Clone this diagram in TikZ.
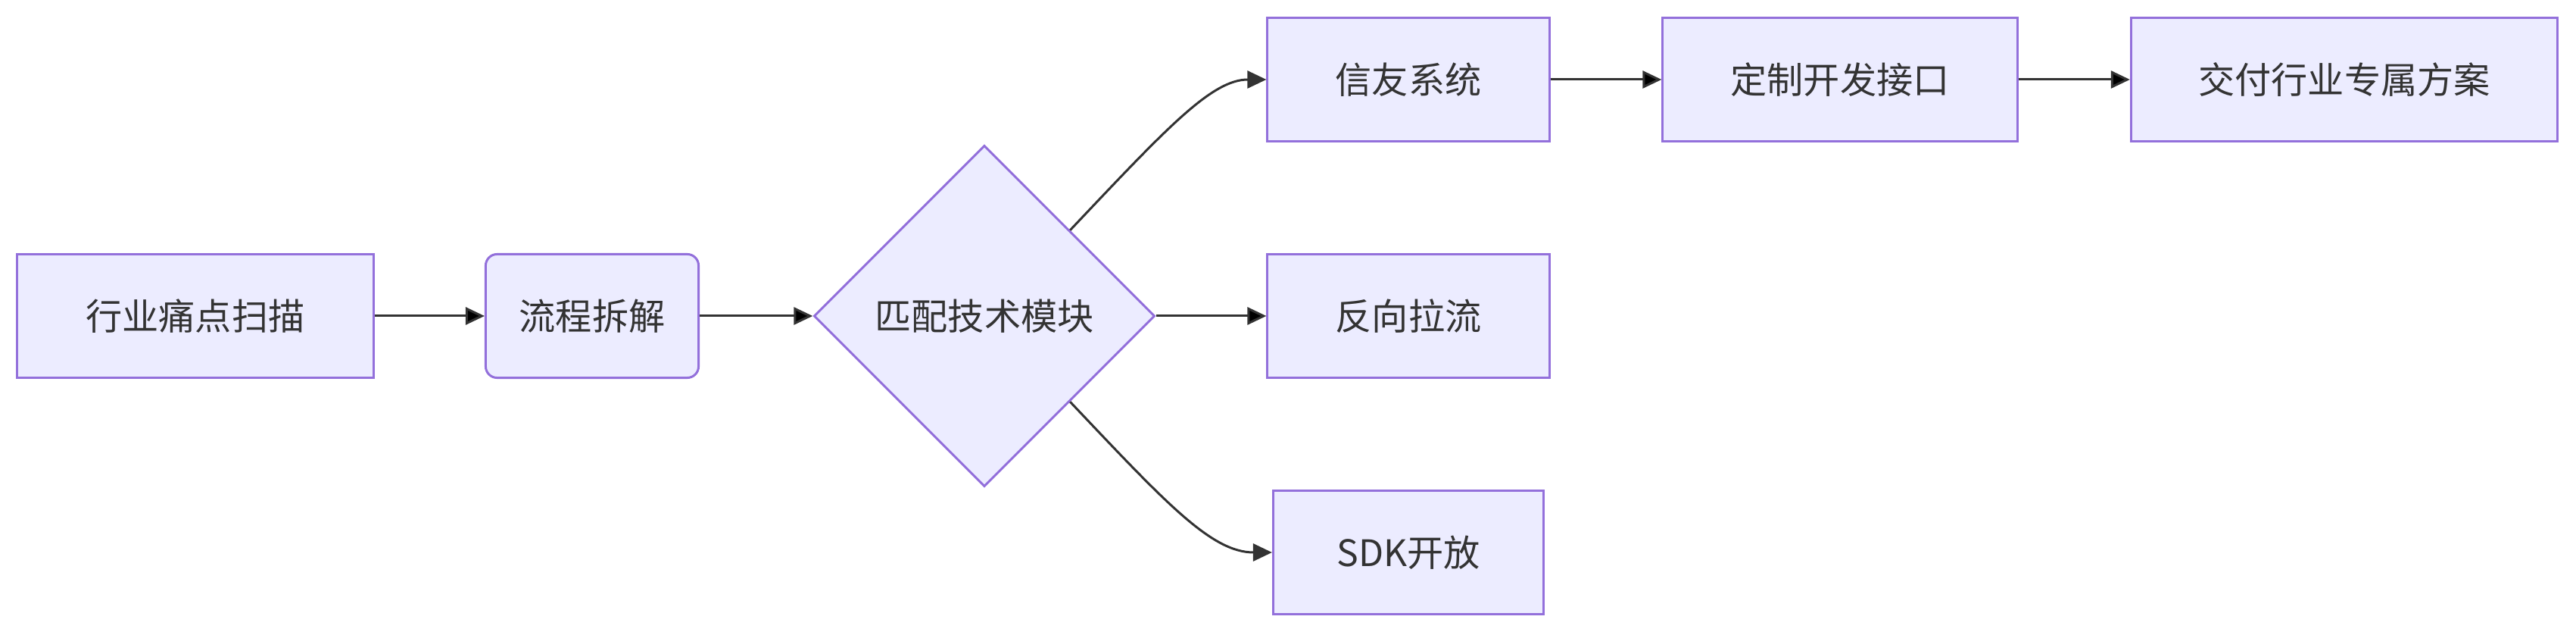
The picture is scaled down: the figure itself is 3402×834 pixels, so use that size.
\documentclass[tikz,border=0pt]{standalone}
\usepackage{fontspec}
\setmainfont{Noto Sans CJK SC}
\usetikzlibrary{shapes.geometric, arrows.meta}
\definecolor{nodefill}{HTML}{ECECFF}
\definecolor{nodeline}{HTML}{9370DB}
\definecolor{inkgray}{HTML}{333333}

\begin{document}
\begin{tikzpicture}[x=0.01cm, y=-0.01cm,
		box/.style={draw=nodeline, fill=nodefill, line width=0.85pt, text=inkgray, minimum height=1.63cm, inner sep=0pt, font=\fontsize{13.7pt}{16pt}\selectfont},
		flow/.style={draw=inkgray, line width=0.85pt, -{Triangle[length=0.25cm, width=0.23cm]}}]
		\useasboundingbox (0,0) rectangle (3402,834);

		\node[box, minimum width=4.7cm] (scan) at (258,417) {行业痛点扫描};
		\node[box, minimum width=2.81cm, rounded corners=0.15cm] (split) at (782,417) {流程拆解};
		\node[box, diamond, aspect=1, minimum width=4.5cm, minimum height=4.5cm] (match) at (1300,417) {匹配技术模块};
		\node[box, minimum width=3.72cm] (xinyou) at (1860,105) {信友系统};
		\node[box, minimum width=3.72cm] (pull) at (1860,417) {反向拉流};
		\node[box, minimum width=3.57cm] (sdk) at (1860,729) {SDK开放};
		\node[box, minimum width=4.68cm] (api) at (2430,105) {定制开发接口};
		\node[box, minimum width=5.63cm] (deliver) at (3096,105) {交付行业专属方案};

		\path[flow] (scan) edge (split);
		\path[flow] (split) edge (match);
		\path[flow] (match) edge (pull);
		\draw[flow] (match.north east) .. controls (1540,170) and (1600,105) .. (xinyou.west);
		\draw[flow] (match.south east) .. controls (1540,664) and (1600,729) .. (sdk.west);
		\path[flow] (xinyou) edge (api);
		\path[flow] (api) edge (deliver);
	\end{tikzpicture}
\end{document}
